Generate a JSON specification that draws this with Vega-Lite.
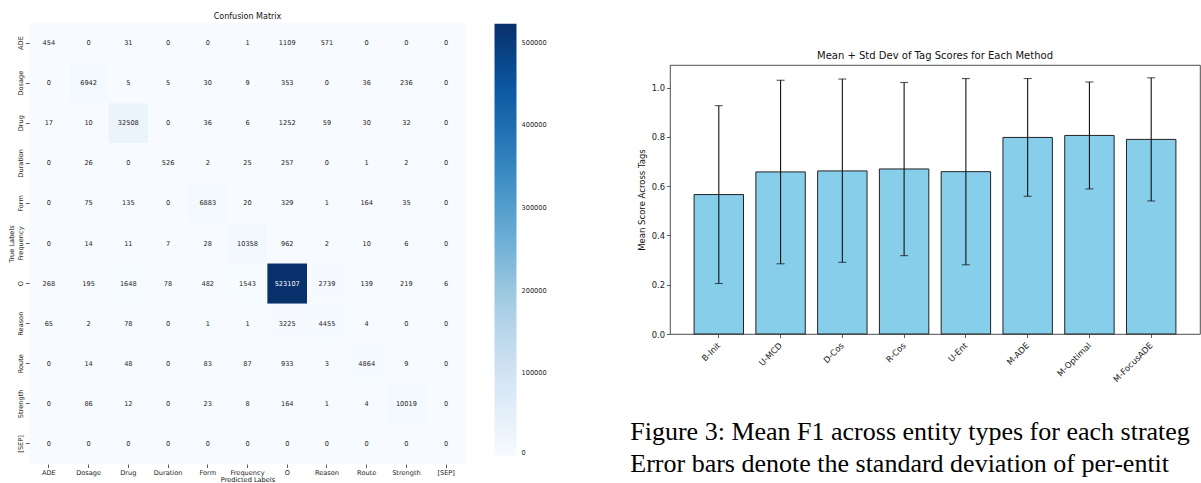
{
  "$schema": "https://vega.github.io/schema/vega-lite/v6.json",
  "padding": {"left": 8, "top": 13, "right": 0, "bottom": 0},
  "background": "white",
  "spacing": 82,
  "resolve": {"scale": {"color": "independent", "x": "independent", "y": "independent"}, "legend": {"color": "independent"}},
  "config": {
    "font": "DejaVu Sans",
    "axis": {"labelFont": "DejaVu Sans", "titleFont": "DejaVu Sans", "labelColor": "#222", "titleColor": "#111", "tickColor": "#333", "tickWidth": 0.8, "grid": false, "domain": false, "titleFontWeight": "normal"},
    "legend": {"labelFont": "DejaVu Sans", "labelColor": "#222"},
    "title": {"font": "DejaVu Sans", "fontWeight": "normal", "color": "#111"}
  },
  "hconcat": [
    {
      "width": 437,
      "height": 441,
      "view": {"stroke": null},
      "title": {"text": "Confusion Matrix", "fontSize": 8, "offset": 2},
      "data": {"values": [
        {"t":"ADE","p":"ADE","v":454},{"t":"ADE","p":"Dosage","v":0},{"t":"ADE","p":"Drug","v":31},{"t":"ADE","p":"Duration","v":0},{"t":"ADE","p":"Form","v":0},{"t":"ADE","p":"Frequency","v":1},{"t":"ADE","p":"O","v":1109},{"t":"ADE","p":"Reason","v":571},{"t":"ADE","p":"Route","v":0},{"t":"ADE","p":"Strength","v":0},{"t":"ADE","p":"[SEP]","v":0},
        {"t":"Dosage","p":"ADE","v":0},{"t":"Dosage","p":"Dosage","v":6942},{"t":"Dosage","p":"Drug","v":5},{"t":"Dosage","p":"Duration","v":5},{"t":"Dosage","p":"Form","v":30},{"t":"Dosage","p":"Frequency","v":9},{"t":"Dosage","p":"O","v":353},{"t":"Dosage","p":"Reason","v":0},{"t":"Dosage","p":"Route","v":36},{"t":"Dosage","p":"Strength","v":236},{"t":"Dosage","p":"[SEP]","v":0},
        {"t":"Drug","p":"ADE","v":17},{"t":"Drug","p":"Dosage","v":10},{"t":"Drug","p":"Drug","v":32508},{"t":"Drug","p":"Duration","v":0},{"t":"Drug","p":"Form","v":36},{"t":"Drug","p":"Frequency","v":6},{"t":"Drug","p":"O","v":1252},{"t":"Drug","p":"Reason","v":59},{"t":"Drug","p":"Route","v":30},{"t":"Drug","p":"Strength","v":32},{"t":"Drug","p":"[SEP]","v":0},
        {"t":"Duration","p":"ADE","v":0},{"t":"Duration","p":"Dosage","v":26},{"t":"Duration","p":"Drug","v":0},{"t":"Duration","p":"Duration","v":526},{"t":"Duration","p":"Form","v":2},{"t":"Duration","p":"Frequency","v":25},{"t":"Duration","p":"O","v":257},{"t":"Duration","p":"Reason","v":0},{"t":"Duration","p":"Route","v":1},{"t":"Duration","p":"Strength","v":2},{"t":"Duration","p":"[SEP]","v":0},
        {"t":"Form","p":"ADE","v":0},{"t":"Form","p":"Dosage","v":75},{"t":"Form","p":"Drug","v":135},{"t":"Form","p":"Duration","v":0},{"t":"Form","p":"Form","v":6883},{"t":"Form","p":"Frequency","v":20},{"t":"Form","p":"O","v":329},{"t":"Form","p":"Reason","v":1},{"t":"Form","p":"Route","v":164},{"t":"Form","p":"Strength","v":35},{"t":"Form","p":"[SEP]","v":0},
        {"t":"Frequency","p":"ADE","v":0},{"t":"Frequency","p":"Dosage","v":14},{"t":"Frequency","p":"Drug","v":11},{"t":"Frequency","p":"Duration","v":7},{"t":"Frequency","p":"Form","v":28},{"t":"Frequency","p":"Frequency","v":10358},{"t":"Frequency","p":"O","v":962},{"t":"Frequency","p":"Reason","v":2},{"t":"Frequency","p":"Route","v":10},{"t":"Frequency","p":"Strength","v":6},{"t":"Frequency","p":"[SEP]","v":0},
        {"t":"O","p":"ADE","v":268},{"t":"O","p":"Dosage","v":195},{"t":"O","p":"Drug","v":1648},{"t":"O","p":"Duration","v":78},{"t":"O","p":"Form","v":482},{"t":"O","p":"Frequency","v":1543},{"t":"O","p":"O","v":523107},{"t":"O","p":"Reason","v":2739},{"t":"O","p":"Route","v":139},{"t":"O","p":"Strength","v":219},{"t":"O","p":"[SEP]","v":6},
        {"t":"Reason","p":"ADE","v":65},{"t":"Reason","p":"Dosage","v":2},{"t":"Reason","p":"Drug","v":78},{"t":"Reason","p":"Duration","v":0},{"t":"Reason","p":"Form","v":1},{"t":"Reason","p":"Frequency","v":1},{"t":"Reason","p":"O","v":3225},{"t":"Reason","p":"Reason","v":4455},{"t":"Reason","p":"Route","v":4},{"t":"Reason","p":"Strength","v":0},{"t":"Reason","p":"[SEP]","v":0},
        {"t":"Route","p":"ADE","v":0},{"t":"Route","p":"Dosage","v":14},{"t":"Route","p":"Drug","v":48},{"t":"Route","p":"Duration","v":0},{"t":"Route","p":"Form","v":83},{"t":"Route","p":"Frequency","v":87},{"t":"Route","p":"O","v":933},{"t":"Route","p":"Reason","v":3},{"t":"Route","p":"Route","v":4864},{"t":"Route","p":"Strength","v":9},{"t":"Route","p":"[SEP]","v":0},
        {"t":"Strength","p":"ADE","v":0},{"t":"Strength","p":"Dosage","v":86},{"t":"Strength","p":"Drug","v":12},{"t":"Strength","p":"Duration","v":0},{"t":"Strength","p":"Form","v":23},{"t":"Strength","p":"Frequency","v":8},{"t":"Strength","p":"O","v":164},{"t":"Strength","p":"Reason","v":1},{"t":"Strength","p":"Route","v":4},{"t":"Strength","p":"Strength","v":10019},{"t":"Strength","p":"[SEP]","v":0},
        {"t":"[SEP]","p":"ADE","v":0},{"t":"[SEP]","p":"Dosage","v":0},{"t":"[SEP]","p":"Drug","v":0},{"t":"[SEP]","p":"Duration","v":0},{"t":"[SEP]","p":"Form","v":0},{"t":"[SEP]","p":"Frequency","v":0},{"t":"[SEP]","p":"O","v":0},{"t":"[SEP]","p":"Reason","v":0},{"t":"[SEP]","p":"Route","v":0},{"t":"[SEP]","p":"Strength","v":0},{"t":"[SEP]","p":"[SEP]","v":0}
      ]},
      "encoding": {
        "x": {"field": "p", "type": "nominal", "sort": ["ADE","Dosage","Drug","Duration","Form","Frequency","O","Reason","Route","Strength","[SEP]"],
              "axis": {"title": "Predicted Labels", "labelAngle": 0, "labelFontSize": 6.6, "titleFontSize": 6.6, "tickSize": 3.5, "labelPadding": 1.5, "titlePadding": 0.5}},
        "y": {"field": "t", "type": "nominal", "sort": ["ADE","Dosage","Drug","Duration","Form","Frequency","O","Reason","Route","Strength","[SEP]"],
              "axis": {"title": "True Labels", "labelAngle": 270, "labelAlign": "center", "labelBaseline": "bottom", "labelFontSize": 6.6, "titleFontSize": 6.6, "tickSize": 3.5, "labelPadding": 2, "titlePadding": 3}}
      },
      "layer": [
        {
          "mark": {"type": "rect"},
          "encoding": {
            "color": {"field": "v", "type": "quantitative",
              "scale": {"domain": [0, 65388.375, 130776.75, 196165.125, 261553.5, 326941.875, 392330.25, 457718.625, 523107],
                        "range": ["#f7fbff","#deebf7","#c6dbef","#9ecae1","#6baed6","#4292c6","#2171b5","#08519c","#08306b"],
                        "interpolate": "rgb"},
              "legend": {"orient": "none", "legendX": 465.5, "legendY": 0.7, "direction": "vertical", "gradientLength": 432, "gradientThickness": 22,
                         "title": null, "values": [0, 100000, 200000, 300000, 400000, 500000], "format": "d", "labelFontSize": 6.6,
                         "labelOffset": 5, "labelBaseline": "middle", "gradientStrokeWidth": 0, "padding": 0}}
          }
        },
        {
          "mark": {"type": "text", "fontSize": 6.6, "font": "DejaVu Sans"},
          "encoding": {
            "text": {"field": "v", "type": "quantitative", "format": "d"},
            "color": {"condition": {"test": "datum.v > 300000", "value": "#ffffff"}, "value": "#262626"}
          }
        }
      ]
    },
    {
      "spacing": 26,
      "title": {
        "text": ["Figure 3: Mean F1 across entity types for each strateg", "Error bars denote the standard deviation of per-entit"],
        "orient": "bottom", "anchor": "start", "frame": "bounds", "font": "Liberation Serif", "fontSize": 26, "fontWeight": "normal",
        "color": "#000", "lineHeight": 32, "offset": 35, "dx": -7
      },
      "vconcat": [
        {"width": 1, "height": 1, "view": {"stroke": null}, "data": {"values": []}, "mark": "point"},
        {
          "width": 530,
          "height": 269,
          "view": {"stroke": "#222", "strokeWidth": 0.8},
          "title": {"text": "Mean + Std Dev of Tag Scores for Each Method", "fontSize": 10, "offset": 4},
          "data": {"values": [
            {"method": "B-Init", "mean": 0.566, "lo": 0.205, "hi": 0.927},
            {"method": "U-MCD", "mean": 0.658, "lo": 0.285, "hi": 1.030},
            {"method": "D-Cos", "mean": 0.662, "lo": 0.291, "hi": 1.035},
            {"method": "R-Cos", "mean": 0.670, "lo": 0.318, "hi": 1.021},
            {"method": "U-Ent", "mean": 0.659, "lo": 0.281, "hi": 1.037},
            {"method": "M-ADE", "mean": 0.798, "lo": 0.559, "hi": 1.037},
            {"method": "M-Optimal", "mean": 0.806, "lo": 0.589, "hi": 1.023},
            {"method": "M-FocusADE", "mean": 0.790, "lo": 0.540, "hi": 1.040}
          ]},
          "encoding": {
            "x": {"field": "method", "type": "nominal", "sort": null,
                  "scale": {"paddingInner": 0.2, "paddingOuter": 0.39},
                  "axis": {"title": null, "labelAngle": -45, "labelAlign": "right", "labelBaseline": "middle", "labelPadding": 6, "tickSize": 3.5, "labelFontSize": 8.4}}
          },
          "layer": [
            {
              "mark": {"type": "bar", "color": "#87ceeb", "stroke": "#222", "strokeWidth": 1},
              "encoding": {
                "y": {"field": "mean", "type": "quantitative", "scale": {"domain": [0, 1.092], "nice": false, "zero": true},
                      "axis": {"title": "Mean Score Across Tags", "values": [0, 0.2, 0.4, 0.6, 0.8, 1.0], "format": ".1f", "tickSize": 3.5, "labelPadding": 2, "titlePadding": 4.5, "labelFontSize": 8.4, "titleFontSize": 8.5}}
              }
            },
            {
              "mark": {"type": "rule", "color": "#111", "strokeWidth": 1.1},
              "encoding": {"y": {"field": "lo", "type": "quantitative"}, "y2": {"field": "hi"}}
            },
            {
              "mark": {"type": "tick", "color": "#111", "thickness": 1.1, "size": 8},
              "encoding": {"y": {"field": "lo", "type": "quantitative"}}
            },
            {
              "mark": {"type": "tick", "color": "#111", "thickness": 1.1, "size": 8},
              "encoding": {"y": {"field": "hi", "type": "quantitative"}}
            }
          ]
        }
      ]
    }
  ]
}
